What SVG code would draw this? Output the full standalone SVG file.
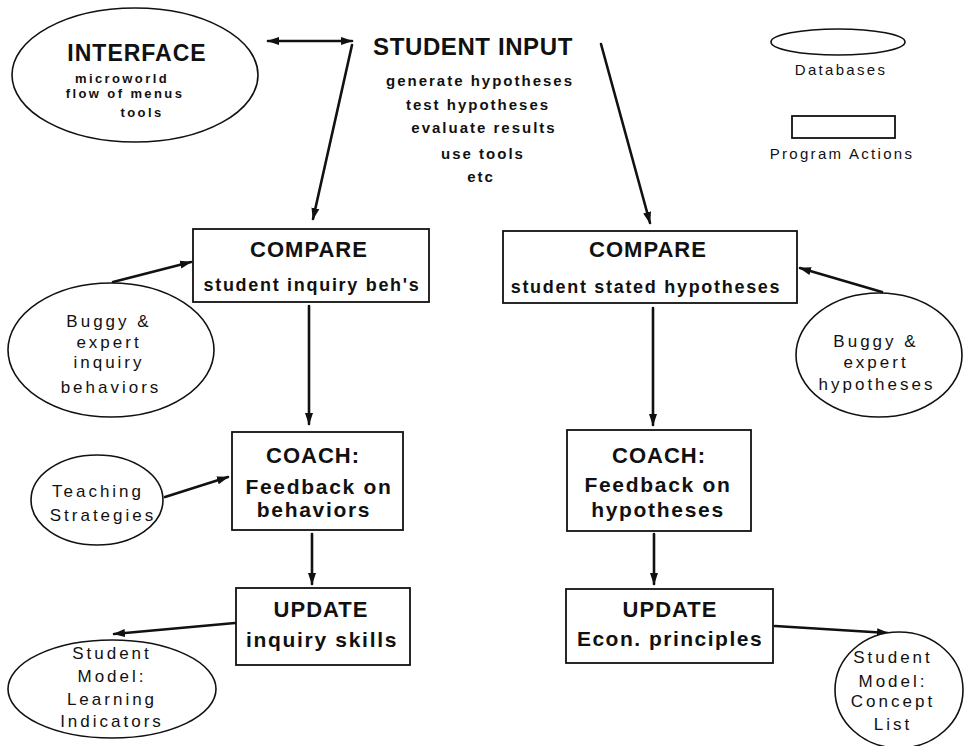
<svg xmlns="http://www.w3.org/2000/svg" width="964" height="746" viewBox="0 0 964 746">
<style>
.bg{fill:#fff}
.box{fill:#fff;stroke:#111;stroke-width:1.8}
.ell{fill:#fff;stroke:#111;stroke-width:1.6}
.con{fill:none;stroke:#111;stroke-width:2.6;stroke-linecap:round}
text{font-family:"Liberation Sans",Arial,sans-serif;fill:#111;text-anchor:middle}
.h{font-size:22px;font-weight:bold;letter-spacing:1px}
.hb{font-size:21px;font-weight:bold;letter-spacing:1.7px}
.sb{font-size:18px;font-weight:bold;letter-spacing:1.7px}
.sm{font-size:13px;font-weight:bold;letter-spacing:2.4px}
.si{font-size:15px;font-weight:bold;letter-spacing:2px}
.el{font-size:17px;letter-spacing:3px}
.lg{font-size:15px;letter-spacing:2.3px}
</style>
<defs>
<marker id="ah" markerUnits="userSpaceOnUse" markerWidth="12" markerHeight="10" refX="11" refY="5" orient="auto-start-reverse">
<path d="M0,1 L12,5 L0,9 z" fill="#111"/>
</marker>
</defs>
<rect class="bg" x="0" y="0" width="964" height="746"/>

<g id="connectors">
<line class="con" x1="268" y1="41" x2="352" y2="41" marker-start="url(#ah)" marker-end="url(#ah)"/>
<line class="con" x1="352" y1="45" x2="313" y2="219" marker-end="url(#ah)"/>
<line class="con" x1="601" y1="44" x2="650" y2="223" marker-end="url(#ah)"/>
<line class="con" x1="113" y1="282" x2="191" y2="262" marker-end="url(#ah)"/>
<line class="con" x1="882" y1="292" x2="800" y2="268" marker-end="url(#ah)"/>
<line class="con" x1="309" y1="306" x2="309" y2="424" marker-end="url(#ah)"/>
<line class="con" x1="653" y1="308" x2="653" y2="425" marker-end="url(#ah)"/>
<line class="con" x1="165" y1="497" x2="228" y2="477" marker-end="url(#ah)"/>
<line class="con" x1="312" y1="534" x2="312" y2="584" marker-end="url(#ah)"/>
<line class="con" x1="654" y1="534" x2="654" y2="584" marker-end="url(#ah)"/>
<line class="con" x1="235" y1="623" x2="114" y2="634" marker-end="url(#ah)"/>
<line class="con" x1="775" y1="626" x2="888" y2="633" marker-end="url(#ah)"/>
</g>

<g id="interface">
<ellipse class="ell" cx="135" cy="75" rx="123" ry="67"/>
<text class="h" x="137" y="61" style="font-size:23px">INTERFACE</text>
<text class="sm" x="122" y="83">microworld</text>
<text class="sm" x="125" y="98">flow of menus</text>
<text class="sm" x="142" y="117">tools</text>
</g>

<g id="student-input">
<text class="h" x="473" y="55" style="font-size:24px;letter-spacing:0.6px">STUDENT INPUT</text>
<text class="si" x="480" y="86">generate hypotheses</text>
<text class="si" x="478" y="110">test hypotheses</text>
<text class="si" x="484" y="133">evaluate results</text>
<text class="si" x="483" y="159">use tools</text>
<text class="si" x="481" y="182">etc</text>
</g>

<g id="legend">
<ellipse class="ell" cx="838" cy="42" rx="67" ry="13"/>
<text class="lg" x="841" y="75">Databases</text>
<rect class="box" x="792" y="116" width="103" height="22"/>
<text class="lg" x="842" y="159">Program Actions</text>
</g>

<g id="compare-left">
<rect class="box" x="193" y="229" width="236" height="73"/>
<text class="h" x="309" y="257">COMPARE</text>
<text class="sb" x="312" y="291">student inquiry beh's</text>
</g>

<g id="compare-right">
<rect class="box" x="503" y="231" width="294" height="72"/>
<text class="h" x="648" y="257">COMPARE</text>
<text class="sb" x="646" y="293">student stated hypotheses</text>
</g>

<g id="buggy-left">
<ellipse class="ell" cx="111" cy="350" rx="103" ry="67"/>
<text class="el" x="109" y="327">Buggy &amp;</text>
<text class="el" x="109" y="348">expert</text>
<text class="el" x="109" y="368">inquiry</text>
<text class="el" x="111" y="393">behaviors</text>
</g>

<g id="buggy-right">
<ellipse class="ell" cx="879" cy="355" rx="83" ry="62"/>
<text class="el" x="876" y="347">Buggy &amp;</text>
<text class="el" x="876" y="368">expert</text>
<text class="el" x="877" y="390">hypotheses</text>
</g>

<g id="coach-left">
<rect class="box" x="232" y="432" width="171" height="98"/>
<text class="h" x="313" y="463">COACH:</text>
<text class="hb" x="319" y="494">Feedback on</text>
<text class="hb" x="314" y="517">behaviors</text>
</g>

<g id="coach-right">
<rect class="box" x="567" y="430" width="184" height="101"/>
<text class="h" x="659" y="463">COACH:</text>
<text class="hb" x="658" y="492">Feedback on</text>
<text class="hb" x="658" y="517">hypotheses</text>
</g>

<g id="teaching">
<ellipse class="ell" cx="97" cy="500" rx="66" ry="45"/>
<text class="el" x="98" y="497">Teaching</text>
<text class="el" x="103" y="521">Strategies</text>
</g>

<g id="update-left">
<rect class="box" x="236" y="588" width="174" height="77"/>
<text class="h" x="321" y="617">UPDATE</text>
<text class="hb" x="322" y="647">inquiry skills</text>
</g>

<g id="update-right">
<rect class="box" x="566" y="589" width="207" height="74"/>
<text class="h" x="670" y="617">UPDATE</text>
<text class="hb" x="670" y="646" style="letter-spacing:1.5px">Econ. principles</text>
</g>

<g id="model-left">
<ellipse class="ell" cx="112" cy="689" rx="104" ry="49"/>
<text class="el" x="112" y="659">Student</text>
<text class="el" x="112" y="682">Model:</text>
<text class="el" x="112" y="705">Learning</text>
<text class="el" x="112" y="727">Indicators</text>
</g>

<g id="model-right">
<ellipse class="ell" cx="899" cy="690" rx="64" ry="58"/>
<text class="el" x="893" y="663">Student</text>
<text class="el" x="893" y="687">Model:</text>
<text class="el" x="893" y="707">Concept</text>
<text class="el" x="893" y="730">List</text>
</g>
</svg>
